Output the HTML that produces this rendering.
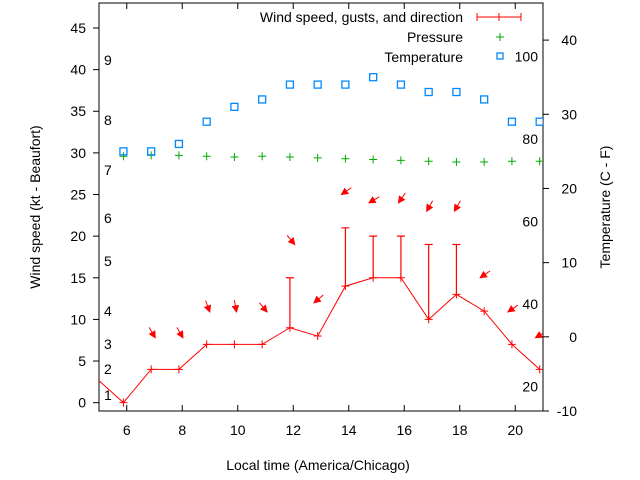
<!DOCTYPE html>
<html><head><meta charset="utf-8"><style>
body{margin:0;background:#fff;}
svg{display:block;font-family:"Liberation Sans",sans-serif;}
</style></head><body>
<svg id="chart" width="640" height="480" viewBox="0 0 640 480" xmlns="http://www.w3.org/2000/svg">
<text x="318" y="470" font-size="14" text-anchor="middle">Local time (America/Chicago)</text>
<text x="40" y="207" font-size="14" text-anchor="middle" transform="rotate(-90 40 207)">Wind speed (kt - Beaufort)</text>
<text x="610" y="207" font-size="14" text-anchor="middle" transform="rotate(-90 610 207)">Temperature (C - F)</text>
<g font-size="14">
<text x="463" y="22" text-anchor="end">Wind speed, gusts, and direction</text>
<g stroke="#f00" stroke-width="1"><line x1="477" y1="17" x2="521" y2="17"/><line x1="477" y1="13" x2="477" y2="21"/><line x1="521" y1="13" x2="521" y2="21"/><line x1="499" y1="13" x2="499" y2="21"/></g>
<text x="463" y="42" text-anchor="end">Pressure</text>
<g stroke="#0a0"><line x1="496" y1="37" x2="504" y2="37"/><line x1="500" y1="33" x2="500" y2="41"/></g>
<text x="463" y="62" text-anchor="end">Temperature</text>
<rect x="497" y="53" width="6" height="6" fill="none" stroke="#08f" stroke-width="1.3"/>
</g>
<g id="plot"></g>
</svg>
<script>
const hours=[4.88,5.88,6.88,7.88,8.88,9.88,10.88,11.88,12.88,13.88,14.88,15.88,16.88,17.88,18.88,19.88,20.88];
const wind=[3,0,4,4,7,7,7,9,8,14,15,15,10,13,11,7,4];
const gustHours=[11.88,13.88,14.88,15.88,16.88,17.88];
const gusts=[15,21,20,20,19,19];
const arrowLevel=[null,null,7.8,7.8,10.9,10.9,10.9,19,12,25,24,24,23,23,15,10.9,7.8];
const arrowDir=[0,0,-30,-30,-20,-10,-40,-40,50,55,60,35,30,30,55,55,60];
const pressure=[null,29.6,29.7,29.7,29.6,29.5,29.6,29.5,29.4,29.3,29.2,29.1,29.0,28.9,28.9,29.0,29.0];
const tempC=[null,25,25,26,29,31,32,34,34,34,35,34,33,33,32,29,29];
const leftTicks=[0,5,10,15,20,25,30,35,40,45];
const rightTicks=[-10,0,10,20,30,40];
const xTicks=[6,8,10,12,14,16,18,20];
const beaufortLabels=[[1,395],[2,369],[3,344],[4,311],[5,261],[6,218],[7,170],[8,120],[9,60]];
const fLabels=[20,40,60,80,100];

const L=99,R=543,T=3,B=411;
const X=h=>L+(h-5)*(R-L)/16;
const Y=v=>B-(v+1)*(B-T)/49;
const YC=c=>B-(c+10)*(B-T)/55;
const NS="http://www.w3.org/2000/svg";
const plot=document.getElementById('plot');
function mk(tag,attrs,parent){const e=document.createElementNS(NS,tag);for(const k in attrs)e.setAttribute(k,attrs[k]);(parent||plot).appendChild(e);return e;}

const clip=mk('clipPath',{id:'pc'});mk('rect',{x:L,y:T,width:R-L,height:B-T},clip);
const frame=mk('rect',{x:L,y:T,width:R-L,height:B-T,fill:'none',stroke:'#000','stroke-width':1});


leftTicks.forEach(v=>{const y=Y(v);
 const t=mk('line',{x1:L-6,y1:y,x2:L,y2:y,stroke:'#000'});
 
 
 const tx=mk('text',{x:L-13,y:y+5,'font-size':14,'text-anchor':'end'});tx.textContent=v;
 
 });
rightTicks.forEach(v=>{const y=YC(v);
 const t=mk('line',{x1:R,y1:y,x2:R+6,y2:y,stroke:'#000'});
 
 
 const tx=mk('text',{x:R+34,y:y+5,'font-size':14,'text-anchor':'end'});tx.textContent=v;
 
 });
xTicks.forEach(v=>{const x=X(v);
 const t=mk('line',{x1:x,y1:B,x2:x,y2:B-6,stroke:'#000'});
 
 
 const t2=mk('line',{x1:x,y1:T,x2:x,y2:T+6,stroke:'#000'});
 
 
 const tx=mk('text',{x:x,y:B+24,'font-size':14,'text-anchor':'middle'});tx.textContent=v;
 
 });
beaufortLabels.forEach(([n,y])=>{const tx=mk('text',{x:104,y:y+5,'font-size':14});tx.textContent=n;
 
 });
fLabels.forEach(f=>{const c=(f-32)*5/9;const tx=mk('text',{x:538,y:YC(c)+5,'font-size':14,'text-anchor':'end'});tx.textContent=f;
 
 });

const g=mk('g',{'clip-path':'url(#pc)'});
const pl=mk('polyline',{points:hours.map((h,i)=>X(h)+','+Y(wind[i])).join(' '),fill:'none',stroke:'#f00','stroke-width':1},g);


hours.forEach((h,i)=>{const x=X(h),y=Y(wind[i]);
 const p=mk('path',{d:`M${x-4} ${y}H${x+4}M${x} ${y-4}V${y+4}`,stroke:'#f00'},g);
 
 });
gustHours.forEach((h,i)=>{const x=X(h),y1=Y(wind[hours.indexOf(h)]),y2=Y(gusts[i]);
 const p=mk('path',{d:`M${x} ${y1}V${y2}M${x-4} ${y2}H${x+4}`,stroke:'#f00','stroke-width':1.2},g);
 
 });
hours.forEach((h,i)=>{if(arrowLevel[i]==null)return;const a=arrowDir[i]*Math.PI/180;
 const dx=-Math.sin(a),dy=Math.cos(a);const len=12;
 const x=X(h)+dx*len/2+1,y=Y(arrowLevel[i]);
 const x0=x-dx*len,y0=y-dy*len;
 const hx=-dy,hy=dx;
 const p=mk('path',{d:`M${x0} ${y0}L${x} ${y}M${x} ${y}L${x-dx*6+hx*3} ${y-dy*6+hy*3}L${x-dx*6-hx*3} ${y-dy*6-hy*3}Z`,stroke:'#f00',fill:'#f00','stroke-width':1},g);
 
 });
hours.forEach((h,i)=>{if(pressure[i]==null)return;const x=X(h),y=Y(pressure[i]);
 const p=mk('path',{d:`M${x-4} ${y}H${x+4}M${x} ${y-4}V${y+4}`,stroke:'#0a0'},g);
 
 });
hours.forEach((h,i)=>{if(tempC[i]==null)return;const x=X(h),y=YC(tempC[i]);
 const r=mk('rect',{x:x-3.5,y:y-3.5,width:7,height:7,fill:'none',stroke:'#08f','stroke-width':1.3},g);
 
 });
</script>
</body></html>
